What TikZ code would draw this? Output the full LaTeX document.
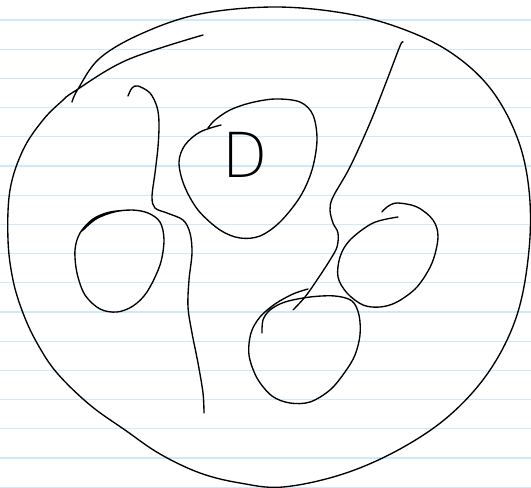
\documentclass[tikz,border=0pt]{standalone}
\usepackage{fontspec}
\newfontfamily\sketchfont{DejaVu Sans ExtraLight}
\definecolor{ruleblue}{RGB}{206,234,250}

\begin{document}
\begin{tikzpicture}[x=1pt, y=-1pt, line cap=round, line join=round]
  \tikzset{pen/.style={draw=black, line width=1.35pt},
           ruling/.style={draw=ruleblue, line width=1.2pt}}
  \fill[white] (0,0) rectangle (531,488);
  \useasboundingbox (0,0) rectangle (531,488);
  % ruled paper
  \foreach \k in {0,...,16}
    \draw[ruling] (0,{20+29.2*\k}) -- (531,{20+29.2*\k});

  % outer loop
  \draw[pen] plot[smooth, tension=0.6] coordinates {
    (72,102) (78,89) (100,58) (143,33) (200,14) (273,7) (343,13) (400,28)
    (450,52) (490,88) (517,137) (529,190) (529,250) (517,315) (490,370)
    (450,415) (400,449) (343,474) (283,487) (240,483) (200,473) (160,454)
    (125,430) (90,405) (57,373) (37,343) (23,313) (13,280) (8,240) (10,190)
    (23,150) (43,120) (62,101) (75,91) (127,60) (203,35)};

  % left wavy line
  \draw[pen] plot[smooth, tension=0.55] coordinates {
    (128,96) (132,88) (138,86) (150,93) (157,107) (159,123) (158,147)
    (155,173) (152,197) (155,208) (167,213) (183,220) (190,233) (192,253)
    (189,280) (188,307) (192,333) (198,363) (203,393) (204,413)};

  % left egg
  \draw[pen] plot[smooth, tension=0.55] coordinates {
    (82,231) (96,219) (114,212) (132,210) (148,213) (160,222) (164,240)
    (160,265) (147,292) (133,306) (117,312) (100,309) (85,295) (77,273)
    (75,250) (80,233) (93,219) (110,212) (131,210)};

  % middle egg
  \draw[pen] plot[smooth, tension=0.55] coordinates {
    (208,128) (215,120) (230,110) (250,103) (275,99) (300,102) (313,115)
    (317,140) (312,170) (300,197) (280,222) (260,236) (240,238) (220,230)
    (198,210) (184,185) (179,162) (185,145) (200,132) (221,125)};

  \node[font=\sketchfont\fontsize{62}{62}\selectfont, xscale=0.95,
        inner sep=0pt] (dmark) at (245,155) {D};

  % long right line
  \draw[pen] plot[smooth, tension=0.55] coordinates {
    (403,42) (400,46) (387,80) (370,123) (350,167) (333,197) (330,210)
    (333,223) (338,233) (337,247) (330,260) (317,280) (305,297) (293,310)};

  % right egg
  \draw[pen] plot[smooth, tension=0.55] coordinates {
    (398,217) (373,223) (350,240) (340,257) (338,277) (347,293) (363,305)
    (380,307) (397,302) (417,287) (432,263) (438,237) (433,220) (417,207)
    (397,203) (387,207) (382,212)};

  % bottom egg
  \draw[pen] plot[smooth, tension=0.55] coordinates {
    (262,333) (263,320) (270,310) (285,302) (310,297) (335,296) (352,301)
    (359,315) (360,335) (355,355) (345,372) (330,390) (310,402) (290,403)
    (272,396) (257,378) (249,355) (251,333) (260,317) (275,304) (293,294)
    (308,289)};
\end{tikzpicture}
\end{document}
